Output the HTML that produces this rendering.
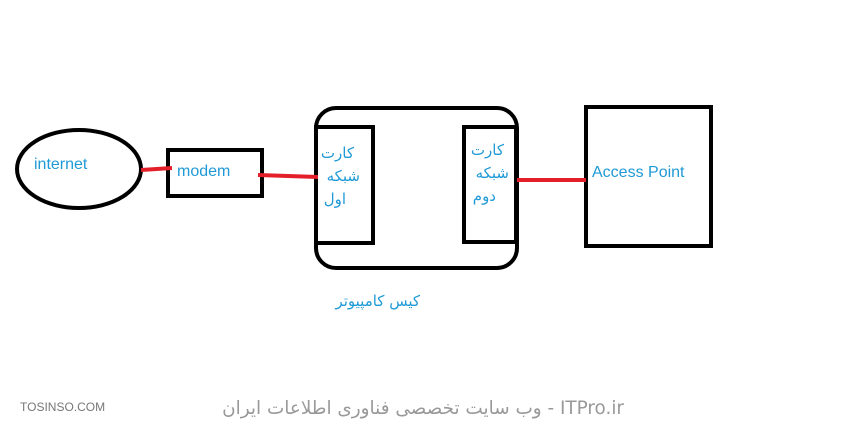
<!DOCTYPE html>
<html><head><meta charset="utf-8"><style>
body{margin:0;background:#fff;width:846px;height:427px;overflow:hidden}
</style></head><body>
<svg width="846" height="427" xmlns="http://www.w3.org/2000/svg" style="display:block">
<rect width="846" height="427" fill="#fff"/>
<g fill="none" stroke="#000" stroke-width="4">
<ellipse cx="79" cy="169" rx="62" ry="39"/>
<rect x="168" y="150" width="94" height="46"/>
<rect x="316" y="108" width="201" height="160" rx="20"/>
<rect x="316" y="127" width="57" height="116"/>
<rect x="464" y="127" width="52" height="115"/>
<rect x="586" y="107" width="125" height="139"/>
</g>
<g stroke="#e3202a" stroke-width="4" fill="none">
<line x1="141" y1="170" x2="172" y2="168"/>
<line x1="258" y1="175" x2="318" y2="177"/>
<line x1="517" y1="180" x2="586" y2="180"/>
</g>
<g font-family="Liberation Sans, DejaVu Sans, sans-serif" fill="#1f9ad6" font-size="16">
<text x="34" y="169">internet</text>
<text x="177" y="176">modem</text>
<text x="592" y="177">Access Point</text>
</g>
<g font-family="DejaVu Sans, Noto Sans CJK SC, sans-serif" fill="#1f9ad6" font-size="15" direction="rtl" text-anchor="start">
<text x="354" y="158">کارت</text>
<text x="360" y="181">شبکه</text>
<text x="346" y="204">اول</text>
<text x="504" y="155">کارت</text>
<text x="509" y="178">شبکه</text>
<text x="496" y="201">دوم</text>
<text x="420" y="306">کیس کامپیوتر</text>
</g>
<text x="20" y="411" font-family="Liberation Sans, sans-serif" font-size="12" fill="#777">TOSINSO.COM</text>
<text x="624" y="414" font-family="DejaVu Sans, sans-serif" font-size="18.4" fill="#999" direction="rtl">ITPro.ir - وب سایت تخصصی فناوری اطلاعات ایران</text>
</svg>
</body></html>
